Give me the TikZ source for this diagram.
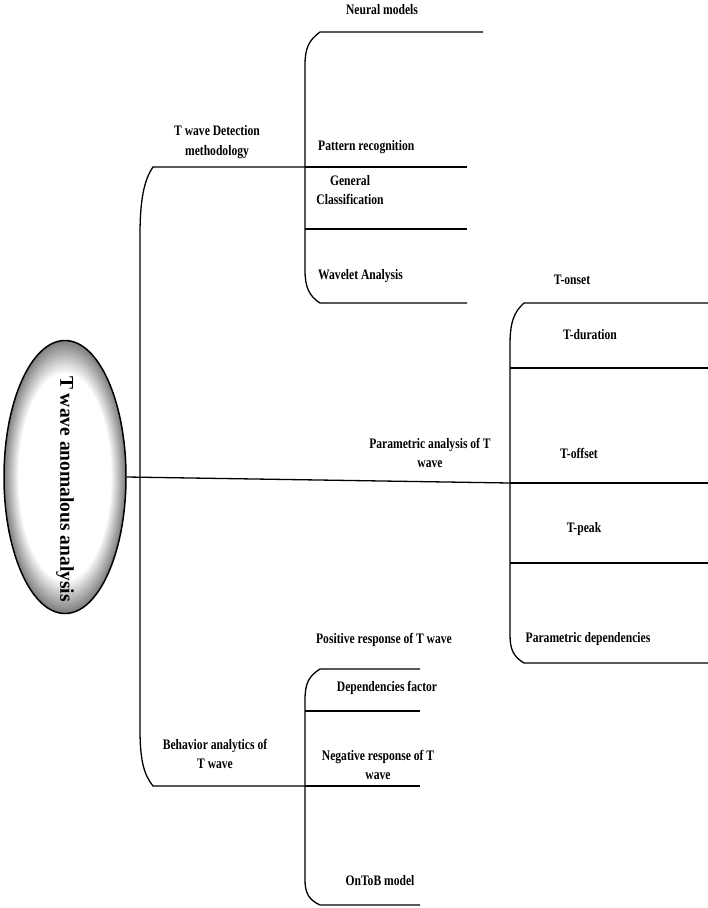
\documentclass[tikz,border=0pt]{standalone}
\usepackage{fontspec}
\setmainfont[FakeStretch=0.8]{Liberation Serif}
\newfontfamily\rootfont{Liberation Serif}
\usetikzlibrary{positioning,shapes.geometric}

\begin{document}
\begin{tikzpicture}[x=1pt, y=-1pt,
		rootnode/.style={ellipse, draw=black, line width=1.5pt, minimum width=122pt, minimum height=273pt, inner sep=0pt},
		leaf/.style={font=\fontsize{14.5}{19.5}\selectfont\bfseries, align=center, inner sep=0pt},
		branch/.style={line width=1.3pt}
	]

	\useasboundingbox (0,0) rectangle (708,908);

	% root, grey rim fading to white
	\foreach \k in {0, ..., 20} {
			\pgfmathsetmacro{\s}{1 - 0.012 * \k}
			\pgfmathsetmacro{\c}{50 - 2.5 * \k}
			\fill[black!\c] (65,477) ellipse ({61 * \s} and {136.5 * \s});
		}
	\node[rootnode] (root) at (65,477) {};
	\node[rotate=-90, font=\rootfont\fontsize{19.5}{24}\selectfont\bfseries] (root-text) at (65,489) {T wave anomalous analysis};

	% branch ends
	\coordinate (det) at (305,167);
	\coordinate (par) at (510,483);
	\coordinate (beh) at (305,786);

	% trunk
	\draw[branch] (det) -- (153,167) .. controls (144,180) and (140,200) .. (140,235) -- (140,730) .. controls (140,760) and (144,775) .. (153,786) -- (beh);
	\draw[branch] (root.east) -- (par);

	% detection bracket
	\draw[branch] (483,32) -- (320,32) .. controls (309,40) and (305,48) .. (305,65) -- (305,270) .. controls (305,287) and (309,296) .. (320,303) -- (467,303);
	\foreach \y in {167, 229} {
			\draw[branch] (305,\y) -- (467,\y);
		}

	% parametric bracket
	\draw[branch] (708,303) -- (524,303) .. controls (514,312) and (510,322) .. (510,345) -- (510,635) .. controls (510,650) and (514,657) .. (524,663) -- (708,663);
	\foreach \y in {368, 483, 563} {
			\draw[branch] (510,\y) -- (708,\y);
		}

	% behavior bracket
	\draw[branch] (420,669) -- (320,669) .. controls (309,676) and (305,683) .. (305,700) -- (305,880) .. controls (305,893) and (309,900) .. (320,905) -- (420,905);
	\foreach \y in {711, 786} {
			\draw[branch] (305,\y) -- (420,\y);
		}

	% labels
	\node[leaf] (det-label) at (217,142) {T wave Detection\\methodology};
	\node[leaf] (neural) at (382,10) {Neural models};
	\node[leaf, anchor=west] (pattern) at (318,147) {Pattern recognition};
	\node[leaf] (general) at (350,190) {General\\Classification};
	\node[leaf, anchor=west] (wavelet) at (318,276) {Wavelet Analysis};

	\node[leaf] (par-label) at (430,453) {Parametric analysis of T\\wave};
	\node[leaf] (onset) at (572,280) {T-onset};
	\node[leaf] (duration) at (590,335) {T-duration};
	\node[leaf] (offset) at (579,453) {T-offset};
	\node[leaf] (peak) at (584,529) {T-peak};
	\node[leaf] (depend) at (588,639) {Parametric dependencies};

	\node[leaf] (beh-label) at (215,754) {Behavior analytics of\\T wave};
	\node[leaf] (positive) at (384,640) {Positive response of T wave};
	\node[leaf] (factor) at (387,688) {Dependencies factor};
	\node[leaf] (negative) at (378,765) {Negative response of T\\wave};
	\node[leaf] (ontob) at (380,881) {OnToB model};

\end{tikzpicture}
\end{document}
